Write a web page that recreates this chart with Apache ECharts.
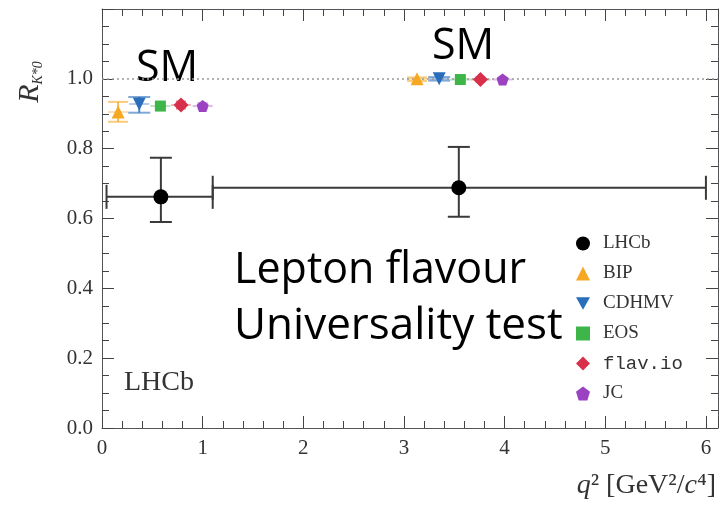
<!DOCTYPE html>
<html>
<head>
<meta charset="utf-8">
<script src="https://cdn.jsdelivr.net/npm/echarts@6/dist/echarts.min.js"></script>
<style>
  html, body { margin: 0; padding: 0; background: #fff; }
  #chart { width: 721px; height: 514px; }
</style>
</head>
<body>
<div id="chart"></div>
<script>
// LHCb measurement: two q2 bins
const lhcbX = [0.585, 3.545];
const lhcbY = [0.662, 0.688];
const lhcbXLo = [0.045, 1.1];
const lhcbXHi = [1.1, 6.0];
const lhcbYLo = [0.590, 0.605];
const lhcbYHi = [0.774, 0.805];

// SM predictions
const models = ['BIP', 'CDHMV', 'EOS', 'flav.io', 'JC'];
const lowX = [0.16, 0.37, 0.58, 0.785, 1.0];
const lowY = [0.905, 0.928, 0.922, 0.925, 0.922];
const lowLo = [0.877, 0.903, 0.915, 0.915, 0.915];
const lowHi = [0.934, 0.948, 0.929, 0.935, 0.930];
const highX = [3.13, 3.35, 3.56, 3.76, 3.98];
const highY = [1.0, 1.0, 0.998, 0.998, 0.998];
const highLo = [0.994, 0.995, 0.993, 0.992, 0.993];
const highHi = [1.004, 1.005, 1.003, 1.004, 1.003];

const smLine = 1.0;

// styles
const colors = ['#f7a823', '#2a6ebb', '#3db548', '#d8304a', '#9a42c2'];
const symbols = [
  'triangle',
  'path://M0,0 L10,0 L5,9 Z',
  'rect',
  'diamond',
  'path://M5,0 L10,3.8 L8.1,10 L1.9,10 L0,3.8 Z'
];
const symbolSizes = [13, 13, 11, 15, 12];
const capHalf = [10, 11, 5, 5, 5];

const serif = '"Liberation Serif", "DejaVu Serif", serif';
const sans = '"Open Sans", Lato, sans-serif';

const chart = echarts.init(document.getElementById('chart'));

const series = [];

// LHCb error bars
series.push({
  type: 'custom',
  z: 3,
  data: lhcbX.map((x, i) => [x, lhcbY[i], lhcbXLo[i], lhcbXHi[i], lhcbYLo[i], lhcbYHi[i]]),
  renderItem(params, api) {
    const x = api.value(0), y = api.value(1);
    const p = api.coord([x, y]);
    const l = api.coord([api.value(2), y]);
    const r = api.coord([api.value(3), y]);
    const lo = api.coord([x, api.value(4)]);
    const hi = api.coord([x, api.value(5)]);
    const st = { stroke: '#3a3a3a', lineWidth: 2 };
    const line = (x1, y1, x2, y2) => ({ type: 'line', shape: { x1, y1, x2, y2 }, style: st });
    return {
      type: 'group',
      children: [
        line(l[0], p[1], r[0], p[1]),
        line(l[0], p[1] - 12, l[0], p[1] + 12),
        line(r[0], p[1] - 12, r[0], p[1] + 12),
        line(p[0], lo[1], p[0], hi[1]),
        line(p[0] - 11, lo[1], p[0] + 11, lo[1]),
        line(p[0] - 11, hi[1], p[0] + 11, hi[1])
      ]
    };
  }
});

series.push({
  name: 'LHCb',
  type: 'scatter',
  z: 5,
  symbol: 'circle',
  symbolSize: 15,
  itemStyle: { color: '#000', opacity: 1 },
  data: lhcbX.map((x, i) => [x, lhcbY[i]]),
  markLine: {
    symbol: 'none',
    label: { show: false },
    lineStyle: { color: '#999', type: [2, 3], width: 1.5 },
    data: [{ yAxis: smLine }]
  }
});

// predictions error bars
const predData = [];
models.forEach((m, i) => {
  predData.push([lowX[i], lowY[i], lowLo[i], lowHi[i], i]);
  predData.push([highX[i], highY[i], highLo[i], highHi[i], i]);
});
series.push({
  type: 'custom',
  z: 3,
  data: predData,
  renderItem(params, api) {
    const x = api.value(0), y = api.value(1), k = api.value(4);
    const p = api.coord([x, y]);
    const l = api.coord([x - 0.1, y]);
    const r = api.coord([x + 0.1, y]);
    const lo = api.coord([x, api.value(2)]);
    const hi = api.coord([x, api.value(3)]);
    const c = colors[k], w = capHalf[k];
    const line = (x1, y1, x2, y2, op) => ({
      type: 'line', shape: { x1, y1, x2, y2 },
      style: { stroke: c, lineWidth: 2, opacity: op }
    });
    return {
      type: 'group',
      children: [
        line(l[0], p[1], r[0], p[1], 0.35),
        line(p[0], lo[1], p[0], hi[1], 0.8),
        line(p[0] - w, lo[1], p[0] + w, lo[1], 0.6),
        line(p[0] - w, hi[1], p[0] + w, hi[1], 0.6)
      ]
    };
  }
});

models.forEach((m, i) => {
  series.push({
    name: m,
    type: 'scatter',
    z: 5,
    symbol: symbols[i],
    symbolSize: symbolSizes[i],
    itemStyle: { color: colors[i], opacity: 1 },
    data: [[lowX[i], lowY[i]], [highX[i], highY[i]]]
  });
});

// axes on all four sides with inward ticks (axis line left at its defaults,
// a heavier axis line made the ticks disappear)
function makeAxis(position, min, max, interval, minorSplit, label) {
  return {
    type: 'value',
    position: position,
    min: min,
    max: max,
    interval: interval,
    axisLine: { show: true, onZero: false },
    axisTick: { show: true, inside: true, length: 12, lineStyle: { color: '#444', width: 1 } },
    minorTick: { show: true, splitNumber: minorSplit, length: 7, lineStyle: { color: '#444', width: 1 } },
    splitLine: { show: false },
    axisLabel: label || { show: false }
  };
}

const xBottom = makeAxis('bottom', 0, 6.12, 1, 5, {
  color: '#333', fontFamily: serif, fontSize: 21, margin: 10,
  formatter: v => (v > 6.05 ? '' : String(v))
});
xBottom.name = '{i|q}² [GeV²/{i|c}⁴]';
xBottom.nameLocation = 'end';
xBottom.nameGap = -2;
xBottom.nameTextStyle = {
  color: '#333', fontFamily: serif, fontSize: 28,
  align: 'right', verticalAlign: 'top', padding: [44, 0, 0, 0],
  rich: { i: { fontFamily: serif, fontSize: 28, fontStyle: 'italic', color: '#333' } }
};

const yLeft = makeAxis('left', 0, 1.2, 0.2, 4, {
  color: '#333', fontFamily: serif, fontSize: 21, margin: 9,
  formatter: v => (v > 1.15 ? '' : v.toFixed(1))
});

const option = {
  animation: false,
  grid: { left: 102, right: 2, top: 9, bottom: 86 },
  xAxis: [xBottom, makeAxis('top', 0, 6.12, 1, 5)],
  yAxis: [yLeft, makeAxis('right', 0, 1.2, 0.2, 4)],
  legend: {
    orient: 'vertical',
    left: 571,
    top: 229,
    itemWidth: 14,
    itemHeight: 14,
    itemGap: 11,
    data: ['LHCb'].concat(models),
    formatter: name => (name === 'flav.io' ? '{m|flav.io}' : name),
    textStyle: {
      color: '#333', fontFamily: serif, fontSize: 19, padding: [0, 0, 0, 8],
      rich: { m: { fontFamily: '"Liberation Mono", "DejaVu Sans Mono", monospace', fontSize: 19, color: '#333' } }
    }
  },
  graphic: [
    { type: 'text', left: 136, top: 47, style: { text: 'SM', font: '43px ' + sans, fill: '#000' } },
    { type: 'text', left: 432, top: 25, style: { text: 'SM', font: '43px ' + sans, fill: '#000' } },
    { type: 'text', left: 234, top: 249, style: { text: 'Lepton flavour', font: '43px ' + sans, fill: '#000' } },
    { type: 'text', left: 234, top: 304, style: { text: 'Universality test', font: '44px ' + sans, fill: '#000' } },
    { type: 'text', left: 124, top: 369, style: { text: 'LHCb', font: '28px ' + serif, fill: '#333' } },
    {
      type: 'text', x: 30, y: 82, rotation: Math.PI / 2,
      style: {
        text: '{r|R}{s|K*0}',
        align: 'center', verticalAlign: 'middle',
        rich: {
          r: { fontFamily: serif, fontStyle: 'italic', fontSize: 30, fill: '#333', color: '#333' },
          s: { fontFamily: serif, fontStyle: 'italic', fontSize: 14, fill: '#333', color: '#333', padding: [16, 0, 0, 0] }
        }
      }
    }
  ],
  series: series
};

chart.setOption(option);
</script>
</body>
</html>
